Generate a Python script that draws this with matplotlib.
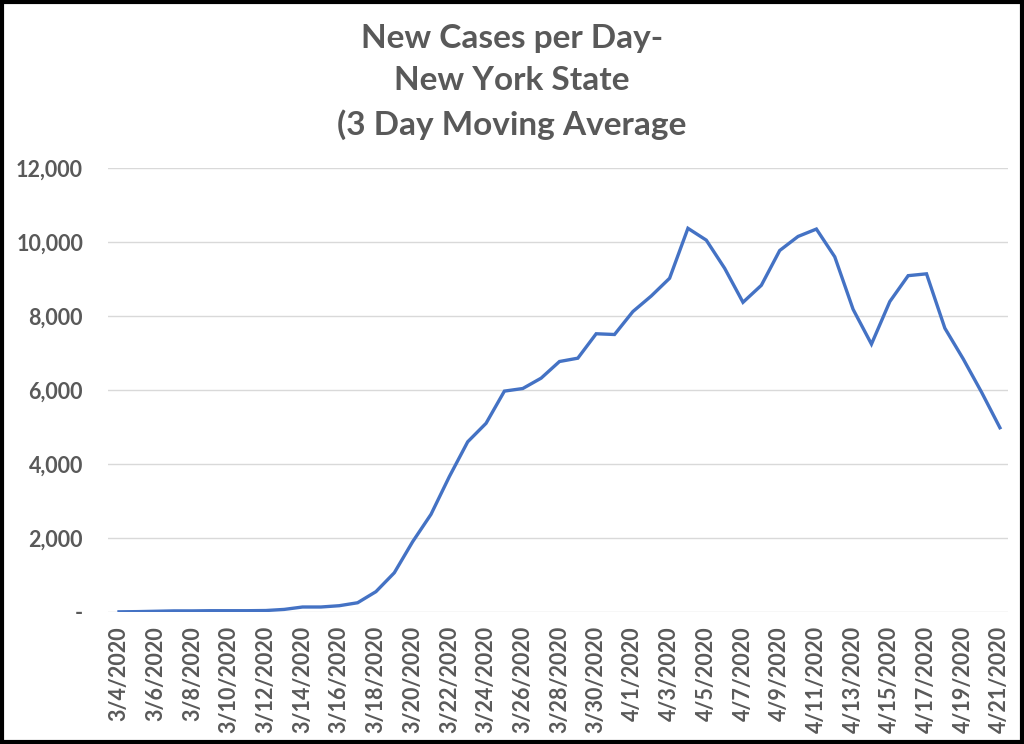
import matplotlib
matplotlib.use("Agg")
import matplotlib.pyplot as plt
from matplotlib.patches import Rectangle
from matplotlib.ticker import FuncFormatter
import pandas as pd

# 3 day moving average of new cases
dates = pd.date_range("2020-03-04", "2020-04-21", freq="D")
cases = [5, 10, 20, 30, 30, 35, 35, 35, 40, 70,
         135, 135, 170, 250, 550, 1060, 1900, 2640, 3660, 4600,
         5100, 5970, 6040, 6320, 6770, 6860, 7520, 7500, 8120, 8540,
         9020, 10370, 10050, 9290, 8370, 8830, 9770, 10150, 10350, 9600,
         8180, 7240, 8390, 9090, 9140, 7670, 6840, 5940, 4980]

labels = [f"{d.month}/{d.day}/{d.year}" for d in dates]
gray = "#595959"

plt.rcParams["font.family"] = ["Lato", "DejaVu Sans"]

fig = plt.figure(figsize=(10.24, 7.44), dpi=100)
ax = fig.add_axes([108 / 1024, 1 - 612 / 744, 900 / 1024, 444 / 744])

x = list(range(len(cases)))
ax.plot(x, cases, color="#4472c4", linewidth=2.4, solid_joinstyle="miter")

ax.set_ylim(0, 12000)
ax.set_xlim(-0.6, 48.44)
ax.set_yticks(range(0, 12001, 2000))
ax.yaxis.set_major_formatter(FuncFormatter(lambda v, p: "-" if v == 0 else f"{int(v):,}"))
ax.set_xticks(x[::2])
ax.set_xticklabels(labels[::2], rotation=90)

ax.grid(axis="y", color="#d9d9d9", linewidth=1)
ax.set_axisbelow(True)
for s in ["top", "right", "left", "bottom"]:
    ax.spines[s].set_visible(False)
ax.tick_params(length=0, colors=gray, labelsize=15.5, pad=10)
for t in ax.get_xticklabels() + ax.get_yticklabels():
    t.set_fontweight("bold")
ax.tick_params(axis="y", pad=18)

fig.text(0.5, 0.968, "New Cases per Day-\nNew York State\n(3 Day Moving Average",
         ha="center", va="top", fontsize=24, fontweight="bold", color=gray,
         linespacing=1.55)

fig.patches.append(Rectangle((0.002, 0.003), 0.996, 0.994, transform=fig.transFigure,
                             fill=False, edgecolor="black", linewidth=3))

fig.savefig("out.png", dpi=100)
